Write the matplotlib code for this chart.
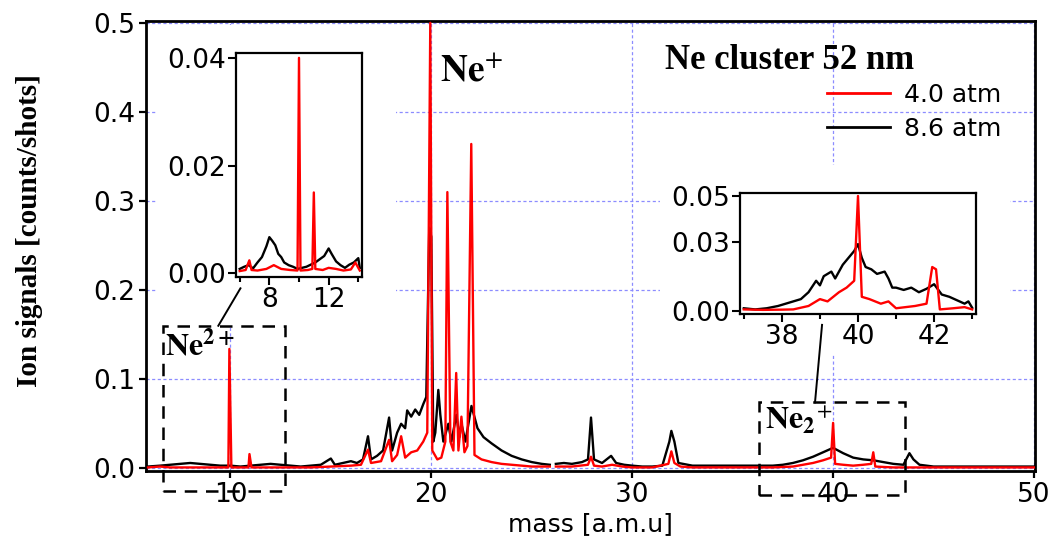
import numpy as np
import matplotlib
matplotlib.use("Agg")
import matplotlib.pyplot as plt
from matplotlib.patches import Rectangle

plt.rcParams['font.family'] = ['DejaVu Sans']
plt.rcParams['mathtext.fontset'] = 'stix'

# main spectrum, 8.6 atm (black)
m_black = [5.9, 6.5, 7.0, 7.5, 8.0, 8.5, 9.0, 9.5, 10.0, 10.5, 11.0, 11.5, 12.0, 12.5, 13.0, 13.5,
           14.0, 14.5, 15.0, 15.2, 15.6, 16.0, 16.3, 16.6, 16.85, 17.0, 17.3, 17.6, 17.9, 18.05,
           18.3, 18.5, 18.7, 18.8, 19.0, 19.2, 19.4, 19.6, 19.75, 19.9, 20.0, 20.1, 20.2, 20.35,
           20.45, 20.6, 20.85, 21.0, 21.25, 21.4, 21.5, 21.7, 22.0, 22.3, 22.6, 23.0, 23.5, 24.0,
           24.5, 25.0, 25.5, 25.9, 26.05, 26.2, 26.6, 27.0, 27.5, 27.8, 27.95, 28.1, 28.5, 28.95,
           29.2, 29.6, 30.0, 30.5, 31.0, 31.5, 31.85, 31.95, 32.1, 32.3, 33.0, 34.0, 35.0, 36.0,
           37.0, 37.5, 38.0, 38.5, 39.0, 39.5, 40.0, 40.5, 41.0, 41.5, 42.0, 42.5, 43.0, 43.5,
           43.8, 44.0, 44.3, 45.0, 46.0, 47.0, 48.0, 49.0, 50.0]
s_black = [0.002, 0.003, 0.004, 0.005, 0.006, 0.005, 0.004, 0.003, 0.003, 0.002, 0.003, 0.004, 0.005,
           0.004, 0.003, 0.002, 0.003, 0.004, 0.011, 0.004, 0.006, 0.008, 0.006, 0.010, 0.036, 0.010,
           0.014, 0.020, 0.057, 0.020, 0.040, 0.050, 0.045, 0.065, 0.058, 0.066, 0.060, 0.072, 0.080,
           0.270, 0.260, 0.030, 0.040, 0.088, 0.060, 0.030, 0.050, 0.030, 0.060, 0.035, 0.050, 0.030,
           0.070, 0.045, 0.035, 0.028, 0.020, 0.014, 0.010, 0.007, 0.005, 0.004, np.nan, 0.005, 0.006,
           0.005, 0.007, 0.010, 0.057, 0.010, 0.006, 0.014, 0.006, 0.004, 0.003, 0.002, 0.002, 0.003,
           0.030, 0.042, 0.030, 0.006, 0.003, 0.003, 0.003, 0.003, 0.003, 0.004, 0.006, 0.009, 0.013,
           0.018, 0.023, 0.017, 0.012, 0.010, 0.009, 0.007, 0.005, 0.004, 0.017, 0.010, 0.004, 0.002,
           0.002, 0.002, 0.002, 0.002, 0.002]

# main spectrum, 4.0 atm (red)
m_red = [5.9, 6.5, 7.0, 8.0, 9.0, 9.9, 9.95, 10.05, 10.9, 10.95, 11.05, 12.0, 13.0, 14.0, 15.0, 16.0,
         16.5, 16.85, 17.0, 17.5, 17.9, 18.05, 18.3, 18.5, 18.7, 19.0, 19.3, 19.6, 19.8, 19.95, 20.05,
         20.3, 20.5, 20.7, 20.8, 20.95, 21.1, 21.24, 21.35, 21.5, 21.65, 21.8, 21.99, 22.15, 22.5,
         23.0, 23.5, 24.0, 25.0, 25.9, 26.05, 26.2, 27.0, 27.8, 27.95, 28.1, 28.5, 29.0, 29.5, 30.0,
         31.0, 31.8, 31.95, 32.1, 32.4, 33.0, 35.0, 37.0, 38.0, 38.5, 39.0, 39.5, 39.9, 40.0, 40.1,
         40.5, 41.0, 41.5, 41.9, 42.0, 42.1, 43.0, 44.0, 45.0, 50.0]
s_red = [0.001, 0.002, 0.001, 0.001, 0.001, 0.001, 0.134, 0.001, 0.001, 0.016, 0.001, 0.001, 0.001,
         0.001, 0.002, 0.003, 0.004, 0.021, 0.006, 0.008, 0.032, 0.008, 0.015, 0.036, 0.012, 0.018,
         0.020, 0.030, 0.040, 0.500, 0.020, 0.010, 0.012, 0.030, 0.310, 0.030, 0.020, 0.107, 0.020,
         0.058, 0.018, 0.025, 0.364, 0.015, 0.010, 0.007, 0.005, 0.004, 0.002, 0.002, np.nan, 0.002,
         0.002, 0.004, 0.013, 0.003, 0.002, 0.004, 0.002, 0.001, 0.001, 0.005, 0.019, 0.006, 0.002,
         0.001, 0.001, 0.001, 0.002, 0.004, 0.006, 0.009, 0.012, 0.051, 0.005, 0.004, 0.003, 0.004,
         0.005, 0.018, 0.002, 0.001, 0.001, 0.001, 0.001]

# inset 1 (Ne2+ region)
i1_black_m = [6.0, 6.3, 6.6, 6.9, 7.2, 7.5, 7.8, 8.0, 8.2, 8.4, 8.6, 8.8, 9.0, 9.3, 9.6, 9.9, 10.2,
              10.5, 10.8, 11.1, 11.4, 11.7, 12.0, 12.2, 12.5, 12.8, 13.1, 13.4, 13.7, 14.0, 14.1]
i1_black_s = [0.0008, 0.0012, 0.0015, 0.0009, 0.0020, 0.0030, 0.0050, 0.0067, 0.0060, 0.0052, 0.0036,
              0.0030, 0.0020, 0.0015, 0.0012, 0.0008, 0.0010, 0.0012, 0.0016, 0.0020, 0.0026, 0.0032,
              0.0046, 0.0036, 0.0022, 0.0015, 0.0010, 0.0016, 0.0020, 0.0028, 0.0010]
i1_red_m = [6.0, 6.4, 6.65, 6.8, 7.2, 7.8, 8.3, 8.8, 9.4, 9.9, 10.0, 10.1, 10.6, 10.9, 11.0, 11.1,
            11.6, 12.0, 12.5, 13.0, 13.5, 13.8, 14.1]
i1_red_s = [0.0004, 0.0006, 0.0024, 0.0006, 0.0005, 0.0008, 0.0015, 0.0008, 0.0006, 0.0005, 0.0400,
            0.0005, 0.0006, 0.0008, 0.0150, 0.0008, 0.0006, 0.0010, 0.0008, 0.0005, 0.0007, 0.0020,
            0.0005]

# inset 2 (Ne2+ dimer region)
i2_black_m = [37.0, 37.3, 37.6, 37.9, 38.1, 38.3, 38.5, 38.7, 38.9, 39.0, 39.1, 39.3, 39.4, 39.6,
              39.8, 39.9, 40.0, 40.1, 40.2, 40.35, 40.5, 40.7, 40.8, 40.9, 41.0, 41.2, 41.4, 41.6,
              41.8, 42.0, 42.2, 42.4, 42.6, 42.8, 42.9, 43.0]
i2_black_s = [0.0010, 0.0005, 0.0010, 0.0020, 0.0030, 0.0040, 0.0050, 0.0080, 0.0130, 0.0110, 0.0150,
              0.0170, 0.0140, 0.0200, 0.0240, 0.0260, 0.0290, 0.0230, 0.0190, 0.0180, 0.0160, 0.0170,
              0.0140, 0.0100, 0.0100, 0.0090, 0.0100, 0.0080, 0.0095, 0.0115, 0.0070, 0.0060, 0.0045,
              0.0030, 0.0040, 0.0012]
i2_red_m = [37.0, 37.5, 38.0, 38.3, 38.7, 39.0, 39.2, 39.5, 39.7, 39.9, 40.0, 40.1, 40.3, 40.6,
            40.8, 41.0, 41.5, 41.8, 41.95, 42.05, 42.15, 42.5, 42.8, 43.0]
i2_red_s = [0.0005, 0.0003, 0.0004, 0.0005, 0.0020, 0.0050, 0.0040, 0.0080, 0.0100, 0.0130, 0.0500,
            0.0060, 0.0050, 0.0030, 0.0040, 0.0010, 0.0020, 0.0030, 0.0190, 0.0180, 0.0005, 0.0010,
            0.0015, 0.0005]

labels = ['4.0 atm', '8.6 atm']
RED = '#ff0000'
GRID = '#8c8cff'

W, H = 1053, 557


def fx(px):
    return px / W


def fy(py):
    return 1 - py / H


fig = plt.figure(figsize=(10.53, 5.57), dpi=100)
ax = fig.add_axes([fx(146), fy(471), fx(1035) - fx(146), fy(21) - fy(471)])

ax.plot(m_black, s_black, color='k', lw=1.7, zorder=2)
ax.plot(m_red, s_red, color=RED, lw=1.7, zorder=3)
ax.set_xlim(5.8, 50.05)
ax.set_ylim(-0.003, 0.502)
ax.set_xticks([10, 20, 30, 40, 50])
ax.set_yticks([0.0, 0.1, 0.2, 0.3, 0.4, 0.5])
ax.set_yticklabels(['%.1f' % v for v in ax.get_yticks()])
ax.tick_params(direction='out', length=5, width=1.6, labelsize=19, pad=3)
for sp in ax.spines.values():
    sp.set_linewidth(2)
ax.set_axisbelow(True)
ax.grid(True, color=GRID, lw=0.9, linestyle=(0, (2.5, 2)))
ax.set_xlabel('mass [a.m.u]', fontsize=18, labelpad=3)
fig.text(fx(30), fy(231), 'Ion signals [counts/shots]', rotation=90, ha='center', va='center',
         fontsize=21, fontweight='bold', family='Liberation Serif')

# white areas behind the insets hide the grid
for (x0, y0, x1, y1) in [(157, 25, 396, 328), (660, 165, 1010, 355)]:
    ax.add_patch(Rectangle((fx(x0), fy(y1)), fx(x1) - fx(x0), fy(y0) - fy(y1),
                           transform=fig.transFigure, facecolor='white', edgecolor='none', zorder=1))

# dashed boxes and connectors
box1 = (6.67, -0.026, 6.07, 0.186)
box2 = (36.3, -0.030, 7.3, 0.104)
for b in (box1, box2):
    ax.add_patch(Rectangle(b[:2], b[2], b[3], fill=False, lw=1.8, ls=(0, (5, 3.5)),
                           edgecolor='k', clip_on=False, zorder=4))
ax.plot([10.5, 9.4], [0.202, 0.160], color='k', lw=1.4, clip_on=False, zorder=4)
ax.plot([39.45, 39.1], [0.161, 0.074], color='k', lw=1.4, clip_on=False, zorder=4)

ax.text(20.45, 0.435, r'$\mathbf{Ne}^{+}$', fontsize=27, ha='left', va='baseline')
ax.text(6.77, 0.127, r'$\mathbf{Ne}^{\mathbf{2+}}$', fontsize=23, ha='left', va='baseline', zorder=5)
ax.text(36.6, 0.0436, r'$\mathbf{Ne_2}^{+}$', fontsize=23, ha='left', va='baseline', zorder=5)
ax.text(31.64, 0.448, 'Ne cluster 52 nm', fontsize=25, fontweight='bold', family='Liberation Serif',
        ha='left', va='baseline')

h_red, = ax.plot([], [], color=RED, lw=2)
h_black, = ax.plot([], [], color='k', lw=2)
ax.legend([h_red, h_black], labels, loc='upper left', bbox_to_anchor=(fx(827), fy(83)),
          bbox_transform=fig.transFigure, frameon=False, borderpad=0, borderaxespad=0,
          handlelength=2.5, handletextpad=0.6, labelspacing=0.4, fontsize=18)

# inset 1
a1 = fig.add_axes([fx(236), fy(277), fx(362) - fx(236), fy(53) - fy(277)])
a1.plot(i1_black_m, i1_black_s, color='k', lw=1.7)
a1.plot(i1_red_m, i1_red_s, color=RED, lw=1.7)
a1.set_xlim(5.75, 14.25)
a1.set_ylim(-0.0007, 0.0409)
a1.set_xticks([8, 12])
a1.set_xticks([6, 10, 14], minor=True)
a1.set_yticks([0.0, 0.02, 0.04])
a1.set_yticklabels(['0.00', '0.02', '0.04'])

# inset 2
a2 = fig.add_axes([fx(740), fy(314), fx(976) - fx(740), fy(193) - fy(314)])
a2.plot(i2_black_m, i2_black_s, color='k', lw=1.7)
a2.plot(i2_red_m, i2_red_s, color=RED, lw=1.7)
a2.set_xlim(36.9, 43.1)
a2.set_ylim(-0.0015, 0.0513)
a2.set_xticks([38, 40, 42])
a2.set_xticks([37, 39, 41, 43], minor=True)
a2.set_yticks([0.0, 0.03, 0.05])
a2.set_yticklabels(['0.00', '0.03', '0.05'])

for a in (a1, a2):
    a.tick_params(which='major', direction='out', length=5.5, width=1.5, labelsize=19, pad=2)
    a.tick_params(which='minor', direction='out', length=3.5, width=1.5)
    for sp in a.spines.values():
        sp.set_linewidth(1.6)

fig.savefig('out.png', dpi=100)
